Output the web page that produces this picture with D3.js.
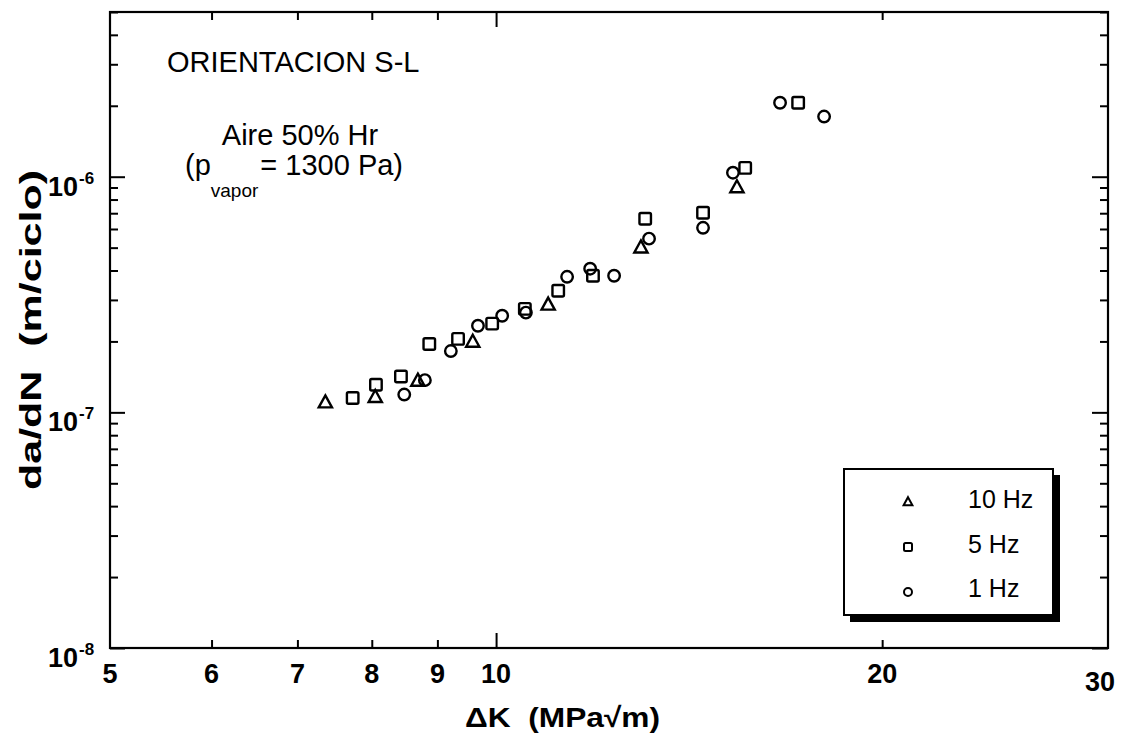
<!DOCTYPE html>
<html><head><meta charset="utf-8">
<script src="https://cdn.jsdelivr.net/npm/d3@7"></script>
<style>
body{margin:0;background:#fff}
svg{display:block}
text{font-family:"Liberation Sans",Arial,Helvetica,sans-serif;fill:#000}
</style>
</head><body>
<svg id="chart" width="1123" height="739"></svg>
<script>
// Tick values
const kTicks = [5, 6, 7, 8, 9, 10, 20, 30];
const kMinorTicks = [6, 7, 8, 9, 20];
const kMajorTicks = [10];
const rateDecades = [1e-8, 1e-7, 1e-6];
const rateExponents = ["-8", "-7", "-6"];

// Series: crack growth rate vs. stress intensity range, by loading frequency
const seriesNames = ["10 Hz", "5 Hz", "1 Hz"];
const dK10 = [7.36, 8.05, 8.69, 9.59, 10.98, 12.97, 15.41];
const rate10 = [1.10e-7, 1.16e-7, 1.36e-7, 1.99e-7, 2.86e-7, 5.0e-7, 9.0e-7];
const dK5 = [7.73, 8.06, 8.43, 8.87, 9.34, 9.93, 10.53, 11.18, 11.90, 13.07, 14.50, 15.64, 17.20];
const rate5 = [1.15e-7, 1.31e-7, 1.42e-7, 1.95e-7, 2.05e-7, 2.38e-7, 2.75e-7, 3.28e-7, 3.80e-7, 6.63e-7, 7.03e-7, 1.09e-6, 2.06e-6];
const dK1 = [8.48, 8.80, 9.22, 9.68, 10.11, 10.55, 11.36, 11.84, 12.36, 13.16, 14.50, 15.30, 16.65, 18.02];
const rate1 = [1.19e-7, 1.37e-7, 1.82e-7, 2.33e-7, 2.57e-7, 2.65e-7, 3.76e-7, 4.07e-7, 3.80e-7, 5.46e-7, 6.07e-7, 1.04e-6, 2.06e-6, 1.80e-6];

const svg = d3.select("#chart");
const L = 110, R = 1108, T = 12, B = 648;

const x = d3.scaleLog().domain([5, 30]).range([L, R]);
const y = d3.scaleLog().domain([1e-8, 5e-6]).range([B, T]);

// minor ticks on the rate axis: 2..9 per decade
const rateMinor = [];
[1e-8, 1e-7, 1e-6].forEach(d => {
  for (let m = 2; m <= 9; m++) { const v = m * d; if (v <= 5e-6) rateMinor.push(v); }
});

function stripDomain(g) { g.select(".domain").remove(); g.selectAll(".tick line").attr("stroke", "#000").attr("stroke-width", 2); }

// left axis ticks (pointing inward)
svg.append("g").attr("transform", `translate(${L},0)`)
  .call(d3.axisLeft(y).tickValues(rateDecades).tickSize(-15).tickFormat(""))
  .call(stripDomain);
svg.append("g").attr("transform", `translate(${L},0)`)
  .call(d3.axisLeft(y).tickValues(rateMinor).tickSize(-8).tickFormat(""))
  .call(stripDomain);
// right axis ticks
svg.append("g").attr("transform", `translate(${R},0)`)
  .call(d3.axisRight(y).tickValues(rateDecades).tickSize(-16).tickFormat(""))
  .call(stripDomain);
svg.append("g").attr("transform", `translate(${R},0)`)
  .call(d3.axisRight(y).tickValues(rateMinor).tickSize(-8).tickFormat(""))
  .call(stripDomain);
// bottom axis ticks
svg.append("g").attr("transform", `translate(0,${B})`)
  .call(d3.axisBottom(x).tickValues(kMinorTicks).tickSize(-8).tickFormat(""))
  .call(stripDomain);
svg.append("g").attr("transform", `translate(0,${B})`)
  .call(d3.axisBottom(x).tickValues(kMajorTicks).tickSize(-15).tickFormat(""))
  .call(stripDomain);
// top axis ticks
svg.append("g").attr("transform", `translate(0,${T})`)
  .call(d3.axisTop(x).tickValues(kMinorTicks).tickSize(-8).tickFormat(""))
  .call(stripDomain);
svg.append("g").attr("transform", `translate(0,${T})`)
  .call(d3.axisTop(x).tickValues(kMajorTicks).tickSize(-15).tickFormat(""))
  .call(stripDomain);

// plot frame
svg.append("rect").attr("x", L).attr("y", T).attr("width", R - L).attr("height", B - T)
  .attr("fill", "none").attr("stroke", "#000").attr("stroke-width", 2.2);

// x tick labels
svg.append("g").selectAll("text").data(kTicks).join("text")
  .attr("x", d => x(d) - (d === 30 ? 8 : 0))
  .attr("y", d => d === 30 ? 691 : 683)
  .attr("text-anchor", "middle")
  .attr("font-size", 27).attr("font-weight", "bold")
  .text(d => d);

// y tick labels: 10 with superscript exponent
const yl = svg.append("g").selectAll("g").data(rateDecades).join("g");
yl.append("text")
  .attr("x", 78).attr("y", d => y(d) + 19)
  .attr("text-anchor", "end")
  .attr("font-size", 27).attr("font-weight", "bold")
  .text("10");
yl.append("text")
  .attr("x", 79).attr("y", d => y(d) + 7)
  .attr("font-size", 17).attr("font-weight", "bold")
  .text((d, i) => rateExponents[i]);

// axis titles
svg.append("text").attr("x", 465).attr("y", 727)
  .attr("font-size", 28).attr("font-weight", "bold")
  .attr("xml:space", "preserve")
  .attr("textLength", 195).attr("lengthAdjust", "spacingAndGlyphs")
  .text("\u0394K  (MPa\u221Am)");
svg.append("text").attr("transform", "translate(41,490) rotate(-90)")
  .attr("font-size", 30).attr("font-weight", "bold")
  .attr("xml:space", "preserve")
  .attr("textLength", 320).attr("lengthAdjust", "spacingAndGlyphs")
  .text("da/dN  (m/ciclo)");

// annotations
svg.append("text").attr("x", 167).attr("y", 72).attr("font-size", 29)
  .text("ORIENTACION S-L");
svg.append("text").attr("x", 300).attr("y", 145).attr("text-anchor", "middle").attr("font-size", 29)
  .text("Aire 50% Hr");
const pv = svg.append("text").attr("x", 185).attr("y", 175).attr("font-size", 29);
pv.append("tspan").text("(p");
pv.append("tspan").attr("font-size", 19).attr("dy", 22).text("vapor");
pv.append("tspan").attr("dy", -22).attr("dx", 2).text("= 1300 Pa)");

// marker shapes
const triPath = (s) => `M0,${-s * 0.6}L${s * 0.55},${s * 0.4}L${-s * 0.55},${s * 0.4}Z`;
const shapes = {
  "10 Hz": (g, s) => g.append("path").attr("d", triPath(s)),
  "5 Hz": (g, s) => g.append("rect").attr("x", -s / 2).attr("y", -s / 2).attr("width", s).attr("height", s).attr("rx", 1.5),
  "1 Hz": (g, s) => g.append("circle").attr("r", s / 2)
};

const series = [
  { name: seriesNames[0], k: dK10, r: rate10 },
  { name: seriesNames[1], k: dK5, r: rate5 },
  { name: seriesNames[2], k: dK1, r: rate1 }
];

const pts = svg.append("g").attr("fill", "none").attr("stroke", "#000").attr("stroke-width", 2.4);
series.forEach(s => {
  s.k.forEach((kv, i) => {
    const g = pts.append("g").attr("transform", `translate(${x(kv)},${y(s.r[i])})`);
    shapes[s.name](g, s.name === "10 Hz" ? 12 : 11.5);
  });
});

// legend box with drop shadow
const lg = svg.append("g");
lg.append("rect").attr("x", 850).attr("y", 475).attr("width", 210).attr("height", 147).attr("fill", "#000");
lg.append("rect").attr("x", 844).attr("y", 469).attr("width", 209).attr("height", 146)
  .attr("fill", "#fff").attr("stroke", "#000").attr("stroke-width", 2);
const legendY = [502, 547, 592];
const textY = [508, 553, 597];
series.forEach((s, i) => {
  const g = lg.append("g").attr("transform", `translate(908,${legendY[i]})`)
    .attr("fill", "none").attr("stroke", "#000").attr("stroke-width", 2);
  shapes[s.name](g, 8);
  lg.append("text").attr("x", 968).attr("y", textY[i]).attr("font-size", 25).text(s.name);
});
</script>
</body></html>
